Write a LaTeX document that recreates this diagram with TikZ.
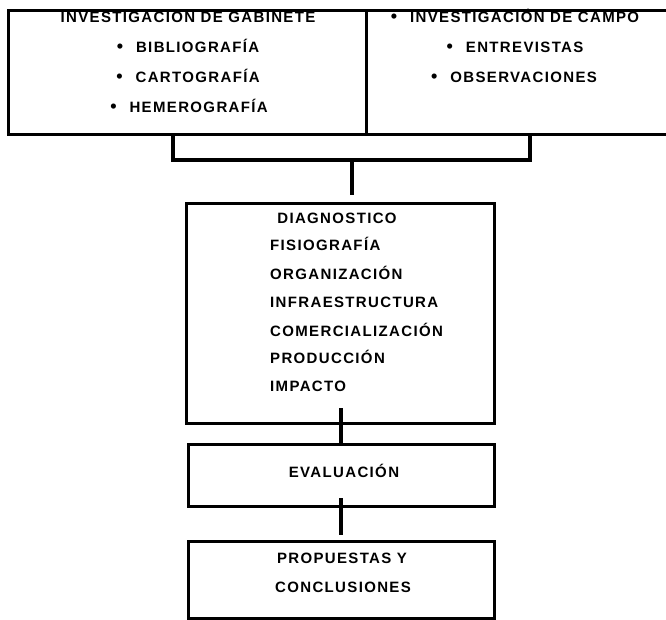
\documentclass[tikz,border=0pt]{standalone}
\usepackage{fontspec}
\setmainfont{Liberation Sans}[LetterSpace=9]
\begin{document}
\begin{tikzpicture}[x=1pt,y=-1pt,
  boxst/.style={draw,line width=3pt,rectangle,inner sep=0pt,anchor=north west},
  conn/.style={line width=3.2pt},
  txt/.style={inner sep=0pt,anchor=base,font=\bfseries\fontsize{15}{16}\selectfont},
  ltxt/.style={txt,anchor=base west}]
\newcommand{\blt}{{\fontsize{18}{16}\selectfont •}\hspace{13pt}}
\useasboundingbox (0,0) rectangle (666,619);
\clip (0,0) rectangle (666,619);
% boxes
\node[boxst,minimum width=358pt,minimum height=124pt] (gab) at (7,9) {};
\node[boxst,minimum width=320pt,minimum height=124pt] (campo) at (365,9) {};
\node[boxst,minimum width=308pt,minimum height=220pt] (diag) at (185,202) {};
\node[boxst,minimum width=306pt,minimum height=62pt] (eval) at (187,443) {};
\node[boxst,minimum width=306pt,minimum height=77pt] (prop) at (187,540) {};
% texts left box
\node[txt] (g0) at (188,22) {INVESTIGACION DE GABINETE};
\node[txt] (g1) at (188,52) {\blt BIBLIOGRAFÍA};
\node[txt] (g2) at (188,82) {\blt CARTOGRAFÍA};
\node[txt] (g3) at (189,112) {\blt HEMEROGRAFÍA};
% texts right box
\node[txt] (c0) at (515,22) {\blt INVESTIGACIÓN DE CAMPO};
\node[txt] (c1) at (515,52) {\blt ENTREVISTAS};
\node[txt] (c2) at (514,82) {\blt OBSERVACIONES};
% diagnostic
\node[txt] (d0) at (337,223) {DIAGNOSTICO};
\node[ltxt] (d1) at (270,250) {FISIOGRAFÍA};
\node[ltxt] (d2) at (270,279) {ORGANIZACIÓN};
\node[ltxt] (d3) at (270,307) {INFRAESTRUCTURA};
\node[ltxt] (d4) at (270,336) {COMERCIALIZACIÓN};
\node[ltxt] (d5) at (270,363) {PRODUCCIÓN};
\node[ltxt] (d6) at (270,391) {IMPACTO};
% evaluation & proposals
\node[txt] (e0) at (344,477) {EVALUACIÓN};
\node[txt] (p0) at (342,563) {PROPUESTAS Y};
\node[txt] (p1) at (343,592) {CONCLUSIONES};
% connectors
\coordinate (bl) at (173,160);
\coordinate (br) at (530,160);
\coordinate (jn) at (352,160);
\draw[conn] (gab.south -| bl) -- (bl) -- (br) -- (campo.south -| br);
\draw[conn] (jn) -- ([yshift=7pt]diag.north -| jn);
\coordinate (x1) at (341,408);
\draw[conn] (x1) -- (eval.north -| x1);
\coordinate (x2) at (341,498);
\draw[conn] (x2) -- ([yshift=5pt]prop.north -| x2);
\end{tikzpicture}
\end{document}
